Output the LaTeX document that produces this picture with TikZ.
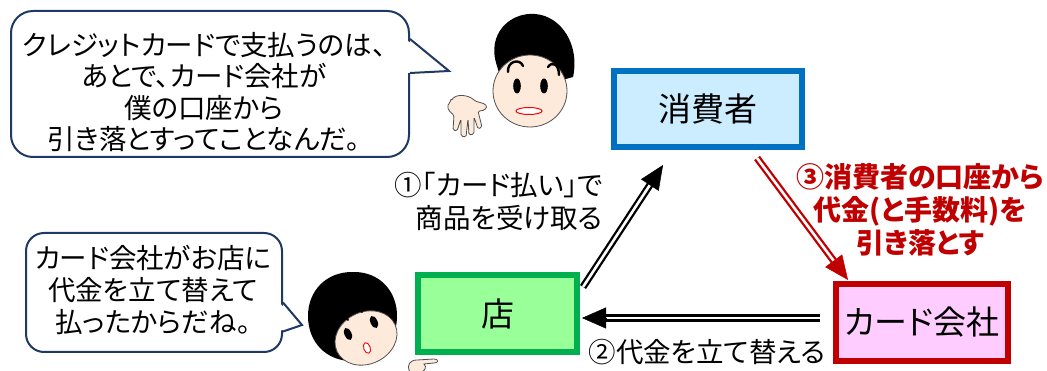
\documentclass[tikz,border=0pt]{standalone}
\usepackage{fontspec}
\setmainfont{Noto Sans CJK JP}[RawFeature=+palt]
\usetikzlibrary{arrows.meta,positioning,calc}

\definecolor{navy}{HTML}{203864}
\definecolor{cblue}{HTML}{0070C0}
\definecolor{cbluefill}{HTML}{CCECFF}
\definecolor{cred}{HTML}{C00000}
\definecolor{cpink}{HTML}{FFCCFF}
\definecolor{cgreen}{HTML}{00B050}
\definecolor{cgreenfill}{HTML}{99FF99}
\definecolor{skin}{HTML}{FDEADA}
\definecolor{skinline}{HTML}{505050}

\begin{document}
\begin{tikzpicture}[
  x=1pt, y=-1pt,
  party/.style={draw, line width=6pt, inner sep=0pt, font=\fontsize{33pt}{38pt}\selectfont},
  lbl/.style={font=\fontsize{27.5pt}{33pt}\selectfont, inner sep=0pt, align=center},
  bubble/.style={draw=navy, line width=2pt, fill=white, rounded corners=22pt},
  talk/.style={draw=navy, line width=2pt, line join=miter},
  dbl/.style={double, double distance=2.6pt, line width=2.3pt, shorten >=18pt},
  tip/.style={-{Triangle[length=24pt, width=21pt]}, line width=0.5pt},
  face/.style={fill=skin, draw=skinline, line width=0.8pt},
]
  \useasboundingbox (0,0) rectangle (1047,371);

  % the three parties
  \node[party, draw=cblue, fill=cbluefill, minimum width=188, minimum height=76] (cons) at (708,109) {消費者};
  \node[party, draw=cred, fill=cpink, minimum width=172, minimum height=77] (card) at (922,322.5) {カード会社};
  \node[party, draw=cgreen, fill=cgreenfill, minimum width=159, minimum height=77] (shop) at (497.5,313.5) {店};

  % arrow end points
  \coordinate (buyt) at ($(shop.north east)+(3,15)$);
  \coordinate (buyh) at ($(cons.south west)+(52,15)$);
  \coordinate (paytt) at ($(cons.south east)+(-48,8)$);
  \coordinate (payth) at ($(card.north west)+(15,-1)$);
  \coordinate (advt) at ($(card.west)+(-13,-4.5)$);
  \coordinate (advh) at ($(shop.east)+(2,4.5)$);

  % (1) shop -> consumer
  \draw[dbl] (buyt) -- (buyh);
  \draw[tip] ($(buyh)!24pt!(buyt)$) -- (buyh);
  % (3) consumer -> card company, in red
  \draw[dbl, cred] (paytt) -- (payth);
  \draw[tip, cred] ($(payth)!24pt!(paytt)$) -- (payth);
  % (2) card company -> shop
  \draw[dbl] (advt) -- (advh);
  \draw[tip] ($(advh)!24pt!(advt)$) -- (advh);

  \node[lbl, anchor=east, align=right] (buylbl) at (603,201.5) {①「カード払い」で\\商品を受け取る};
  \node[lbl, text=cred, font=\fontsize{28pt}{33pt}\selectfont\bfseries] (paylbl) at (920,210) {③消費者の口座から\\代金(と手数料)を\\引き落とす};
  \node[lbl] (advlbl) at (707,352) {②代金を立て替える};

  % speech bubble of the man
  \node[bubble, minimum width=398, minimum height=146] (bub1) at (210,84) {};
  \fill[white] ($(bub1.east)+(-2,-43)$) -- ($(bub1.east)+(39,-13)$) -- ($(bub1.east)+(-2,-11)$) -- cycle;
  \draw[talk] ($(bub1.east)+(0,-45)$) -- ($(bub1.east)+(39,-13)$) -- ($(bub1.east)+(0,-11)$);
  \node[lbl, font=\fontsize{27.5pt}{31.5pt}\selectfont] (say1) at (204,92) {クレジットカードで支払うのは、\\あとで、カード会社が\\僕の口座から\\引き落とすってことなんだ。};

  % speech bubble of the woman
  \node[bubble, rounded corners=18pt, minimum width=256, minimum height=119] (bub2) at (154,292.5) {};
  \fill[white] ($(bub2.east)+(-2,12)$) -- ($(bub2.east)+(19,32.5)$) -- ($(bub2.east)+(-2,38)$) -- cycle;
  \draw[talk] ($(bub2.east)+(0,10)$) -- ($(bub2.east)+(19,32.5)$) -- ($(bub2.east)+(0,39)$);
  \node[lbl, font=\fontsize{27.5pt}{32pt}\selectfont] (say2) at (153,290) {カード会社がお店に\\代金を立て替えて\\払ったからだね。};

  % the man
  \fill (497,66) .. controls (486,34) and (510,12) .. (535,14)
    .. controls (562,16) and (580,46) .. (573,77) -- (555,82) -- (500,76) -- cycle;
  \draw[face] (530,91) ellipse [x radius=37, y radius=36];
  \draw[line width=2.4pt, line cap=round] (508,72) .. controls (507,61) and (520,58) .. (523,66);
  \draw[line width=2.4pt, line cap=round] (548,67) .. controls (552,61) and (559,64) .. (559,75);
  \fill (517,86) ellipse [x radius=3.8, y radius=7.5];
  \fill (544,86) ellipse [x radius=3.8, y radius=7.5];
  \draw[red, fill=white, line width=1pt] (529,111) ellipse [x radius=13, y radius=3.5];
  \draw[face, rounded corners=1.5pt] (451,101) .. controls (456,93) and (469,95) .. (475,101)
    -- (485,104) .. controls (488,108) and (484,111) .. (478,111)
    -- (482,127) -- (478,129) -- (474,117) -- (474,134) -- (469,135) -- (468,119)
    -- (466,137) -- (461,136) -- (461,119) -- (457,131) -- (453,130) -- (454,115)
    .. controls (448,111) and (446,106) .. cycle;

  % the woman
  \fill (352,272) .. controls (380,271) and (398,292) .. (397,318)
    .. controls (396,344) and (378,361) .. (352,361)
    .. controls (326,361) and (308,342) .. (308,316)
    .. controls (308,291) and (326,272) .. cycle;
  \draw[face, rotate around={25:(366,338)}] (366,338) ellipse [x radius=32, y radius=26];
  \draw[line width=2pt, line cap=round] (334,327) .. controls (334,316) and (345,314) .. (348,320);
  \draw[line width=2pt, line cap=round] (362,312) .. controls (363,302) and (373,301) .. (376,308);
  \fill[rotate around={25:(348,334)}] (348,334) ellipse [x radius=3.5, y radius=6.5];
  \fill[rotate around={25:(374,322)}] (374,322) ellipse [x radius=3.5, y radius=6.5];
  \draw[red, fill=white, line width=0.9pt, rotate around={20:(367,348)}] (367,348) ellipse [x radius=3.3, y radius=5.5];
  \draw[face] (410,372) .. controls (406,365) and (410,360) .. (417,360)
    -- (434,359) .. controls (439,359) and (439,363) .. (434,363)
    -- (424,364) .. controls (427,367) and (425,370) .. (422,372);
\end{tikzpicture}
\end{document}
